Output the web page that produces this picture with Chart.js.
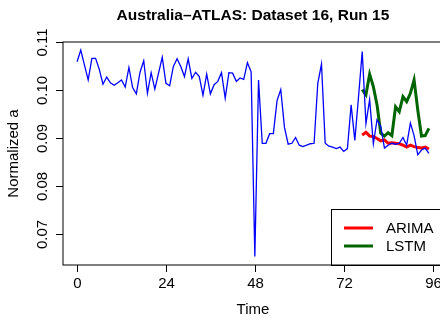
<!DOCTYPE html>
<html>
<head>
<meta charset="utf-8">
<script src="https://cdn.jsdelivr.net/npm/chart.js@4/dist/chart.umd.min.js"></script>
<style>
  html, body { margin: 0; padding: 0; background: #ffffff; overflow: hidden; }
  #wrap { width: 440px; height: 320px; position: relative; }
</style>
</head>
<body>
<div id="wrap"><canvas id="c" width="440" height="320"></canvas></div>
<script>
// ---- data ----
const chartTitle = "Australia\u2013ATLAS: Dataset 16, Run 15";
const xTitle = "Time";
const yTitle = "Normalized a";

const actualTimes = [];
for (let i = 0; i <= 95; i++) actualTimes.push(i);

const actualValues = [
  0.1059, 0.1083, 0.1052, 0.1021, 0.1066, 0.1066, 0.1043, 0.1012, 0.1027, 0.1015,
  0.1010, 0.1015, 0.1021, 0.1006, 0.1047, 0.1005, 0.0992, 0.1037, 0.1061, 0.0993,
  0.1036, 0.1002, 0.1035, 0.1068, 0.1014, 0.1009, 0.1049, 0.1065, 0.1049, 0.1028,
  0.1065, 0.1024, 0.1037, 0.1028, 0.0989, 0.1033, 0.0992, 0.1011, 0.1018, 0.1036,
  0.0983, 0.1036, 0.1035, 0.1018, 0.1025, 0.1022, 0.1057, 0.1038, 0.0653, 0.1021,
  0.0889, 0.0889, 0.0909, 0.0909, 0.0978, 0.1001, 0.0922, 0.0887, 0.0889, 0.0901,
  0.0885, 0.0882, 0.0885, 0.0888, 0.0889, 0.1014, 0.1054, 0.0889, 0.0883, 0.0881,
  0.0878, 0.0881, 0.0872, 0.0878, 0.0969, 0.0895, 0.0986, 0.1080, 0.0930, 0.0980,
  0.0888, 0.0938, 0.0924, 0.0879, 0.0885, 0.0889, 0.0887, 0.0889, 0.0901, 0.0885,
  0.0931, 0.0905, 0.0865, 0.0875, 0.0879, 0.0868
];

const forecastTimes = [77, 78, 79, 80, 81, 82, 83, 84, 85, 86, 87, 88, 89, 90, 91, 92, 93, 94, 95];

const arimaValues = [
  0.0906, 0.0912, 0.0904, 0.0903, 0.0899, 0.0894, 0.0896, 0.0889, 0.0890, 0.0889,
  0.0888, 0.0885, 0.0881, 0.0885, 0.0882, 0.0880, 0.0879, 0.0881, 0.0877
];

const lstmValues = [
  0.1001, 0.0990, 0.1033, 0.1007, 0.0969, 0.0910, 0.0904, 0.0911, 0.0905, 0.0965,
  0.0955, 0.0986, 0.0976, 0.0993, 0.1021, 0.0958, 0.0904, 0.0905, 0.0920
];

const xTickValues = [0, 24, 48, 72, 96];
const xTickLabels = ["0", "24", "48", "72", "96"];
const yTickValues = [0.07, 0.08, 0.09, 0.10, 0.11];
const yTickLabels = ["0.07", "0.08", "0.09", "0.10", "0.11"];

const legendNames = ["ARIMA", "LSTM"];
const legendColors = ["#ff0000", "#006400"];

// ---- build ----
function pts(xs, ys) { return xs.map((x, i) => ({ x: x, y: ys[i] })); }

const FONT = "'Liberation Sans', Arial, Helvetica, sans-serif";

const decor = {
  id: 'decor',
  afterDraw(chart) {
    const ctx = chart.ctx;
    const xs = chart.scales.x, ys = chart.scales.y;
    const left = xs.getPixelForValue(-3.8);
    const right = xs.getPixelForValue(98.8);
    const top = ys.getPixelForValue(0.11);
    const bottom = ys.getPixelForValue(0.06354);
    ctx.save();
    ctx.fillStyle = '#000';
    ctx.strokeStyle = '#000';
    ctx.lineWidth = 1;

    // legend (bottom-right, inset 0)
    const lgLeft = 331, lgTop = 209;
    ctx.fillStyle = '#fff';
    ctx.fillRect(lgLeft, lgTop, right - lgLeft, bottom - lgTop);
    ctx.strokeRect(lgLeft + 0.5, lgTop + 0.5, right - lgLeft, bottom - lgTop);
    ctx.font = "15px " + FONT;
    ctx.textBaseline = 'middle';
    ctx.textAlign = 'left';
    legendNames.forEach((n, i) => {
      const y = 228 + i * 18;
      ctx.strokeStyle = legendColors[i];
      ctx.lineWidth = 3;
      ctx.beginPath();
      ctx.moveTo(344, y);
      ctx.lineTo(373, y);
      ctx.stroke();
      ctx.fillStyle = '#000';
      ctx.fillText(n, 386, y + 1);
    });

    // box
    ctx.strokeStyle = '#000';
    ctx.lineWidth = 1;
    ctx.strokeRect(left, top, right - left, bottom - top);

    // x ticks
    ctx.font = "15px " + FONT;
    ctx.textAlign = 'center';
    ctx.textBaseline = 'middle';
    xTickValues.forEach((v, i) => {
      const px = Math.round(xs.getPixelForValue(v)) + 0.5;
      ctx.beginPath();
      ctx.moveTo(px, bottom);
      ctx.lineTo(px, bottom + 7);
      ctx.stroke();
      ctx.fillText(xTickLabels[i], px, 284);
    });
    // y ticks
    yTickValues.forEach((v, i) => {
      const py = Math.round(ys.getPixelForValue(v)) + 0.5;
      ctx.beginPath();
      ctx.moveTo(left, py);
      ctx.lineTo(left - 7, py);
      ctx.stroke();
      ctx.save();
      ctx.translate(43, py);
      ctx.rotate(-Math.PI / 2);
      ctx.fillText(yTickLabels[i], 0, 0);
      ctx.restore();
    });
    // axis titles
    ctx.fillText(xTitle, (left + right) / 2, 310);
    ctx.save();
    ctx.translate(14, (top + bottom) / 2);
    ctx.rotate(-Math.PI / 2);
    ctx.fillText(yTitle, 0, 0);
    ctx.restore();
    // title
    ctx.font = "bold 15.5px " + FONT;
    ctx.fillText(chartTitle, (left + right) / 2, 16);
    ctx.restore();
  }
};

new Chart(document.getElementById('c'), {
  type: 'line',
  data: {
    datasets: [
      { label: 'Actual', data: pts(actualTimes, actualValues), borderColor: '#0000ff', borderWidth: 1.3, pointRadius: 0, tension: 0, fill: false },
      { label: legendNames[0], data: pts(forecastTimes, arimaValues), borderColor: legendColors[0], borderWidth: 3, pointRadius: 0, tension: 0, fill: false },
      { label: legendNames[1], data: pts(forecastTimes, lstmValues), borderColor: legendColors[1], borderWidth: 3, pointRadius: 0, tension: 0, fill: false }
    ]
  },
  options: {
    responsive: false,
    animation: false,
    layout: { padding: { left: 63, right: 0, top: 42, bottom: 55 } },
    plugins: { legend: { display: false }, title: { display: false }, tooltip: { enabled: false } },
    scales: {
      x: { type: 'linear', min: -3.8, max: 98, display: false },
      y: { type: 'linear', min: 0.06354, max: 0.11, display: false }
    }
  },
  plugins: [decor]
});
</script>
</body>
</html>
